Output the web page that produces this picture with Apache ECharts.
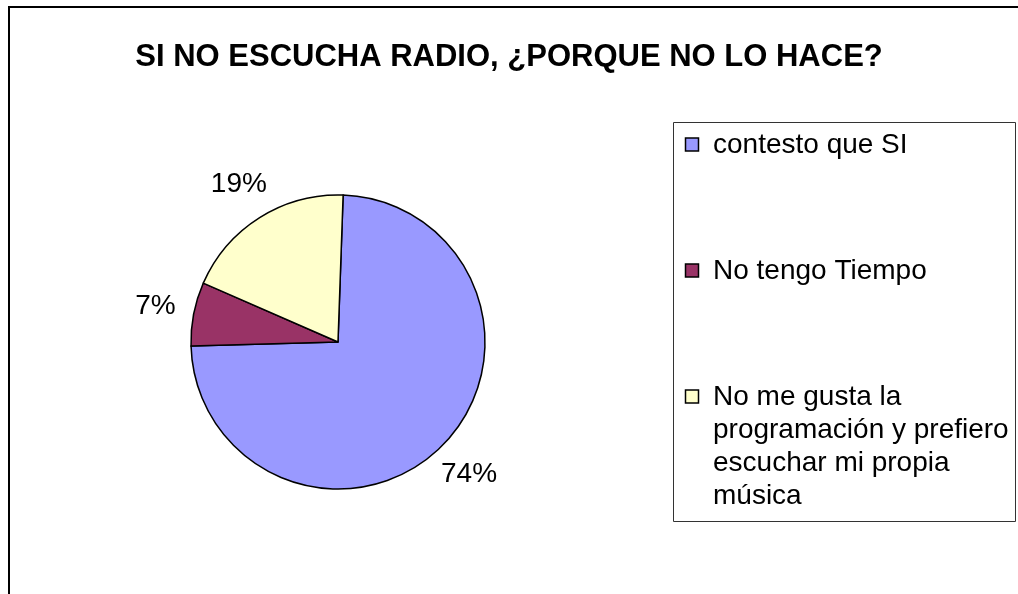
<!DOCTYPE html>
<html><head><meta charset="utf-8">
<script src="https://cdn.jsdelivr.net/npm/echarts@6/dist/echarts.min.js"></script>
<style>html,body{margin:0;padding:0;background:#fff}#c{width:1018px;height:594px}</style>
</head><body><div id="c"></div>
<script>
const titleText = 'SI NO ESCUCHA RADIO, ¿PORQUE NO LO HACE?';
const categories = ['contesto que SI', 'No tengo Tiempo', 'No me gusta la programación y prefiero escuchar mi propia música'];
const legendLabels = ['contesto que SI', 'No tengo Tiempo', 'No me gusta la\nprogramación y prefiero\nescuchar mi propia\nmúsica'];
const values = [74, 7, 19];
const colors = ['#9999FF', '#993366', '#FFFFCC'];

const FONT = '"Liberation Sans", Arial, sans-serif';
const chart = echarts.init(document.getElementById('c'), null, {renderer: 'canvas'});

const sliceData = categories.map((n, i) => ({name: n, value: values[i], itemStyle: {color: colors[i]}}));
const labelData = categories.map((n, i) => ({name: n, value: values[i]}));

const graphics = [
  {type: 'rect', z: 0, shape: {x: 9, y: 7, width: 1300, height: 900}, style: {fill: 'none', stroke: '#000', lineWidth: 2}},
  {type: 'rect', z: 1, shape: {x: 673.5, y: 122.5, width: 342, height: 399}, style: {fill: '#fff', stroke: '#333', lineWidth: 1}}
];
const legendTop = 145, legendGap = 126;
legendLabels.forEach((lbl, i) => {
  const cy = legendTop + i * legendGap;
  graphics.push({type: 'rect', z: 2, shape: {x: 685.5, y: cy - 7, width: 13, height: 13},
    style: {fill: colors[i], stroke: '#000', lineWidth: 1.5}});
  graphics.push({type: 'text', z: 2, x: 713, y: cy - 16.5,
    style: {text: lbl, fontSize: 28, fontFamily: FONT, fill: '#000', lineHeight: 33, verticalAlign: 'top', align: 'left'}});
});

chart.setOption({
  animation: false,
  backgroundColor: '#fff',
  title: {
    text: titleText, left: 'center', top: 42, padding: [0, 0, 0, 8],
    textStyle: {fontSize: 31, fontWeight: 'bold', color: '#000', fontFamily: FONT}
  },
  graphic: graphics,
  series: [
    {
      type: 'pie', center: [338, 342], radius: 147, startAngle: 88, clockwise: true,
      data: sliceData, silent: true,
      label: {show: false}, labelLine: {show: false},
      itemStyle: {borderColor: '#000', borderWidth: 1.5},
      emphasis: {disabled: true}
    },
    {
      type: 'pie', center: [338, 342], radius: [0, 366], startAngle: 88, clockwise: true,
      data: labelData, silent: true, z: 3,
      itemStyle: {color: 'rgba(0,0,0,0)', borderWidth: 0},
      label: {show: true, position: 'inside', formatter: p => Math.round(p.percent) + '%',
        fontSize: 28, color: '#000', fontFamily: FONT, textBorderWidth: 0},
      labelLine: {show: false},
      emphasis: {disabled: true}
    }
  ]
});
</script>
</body></html>
